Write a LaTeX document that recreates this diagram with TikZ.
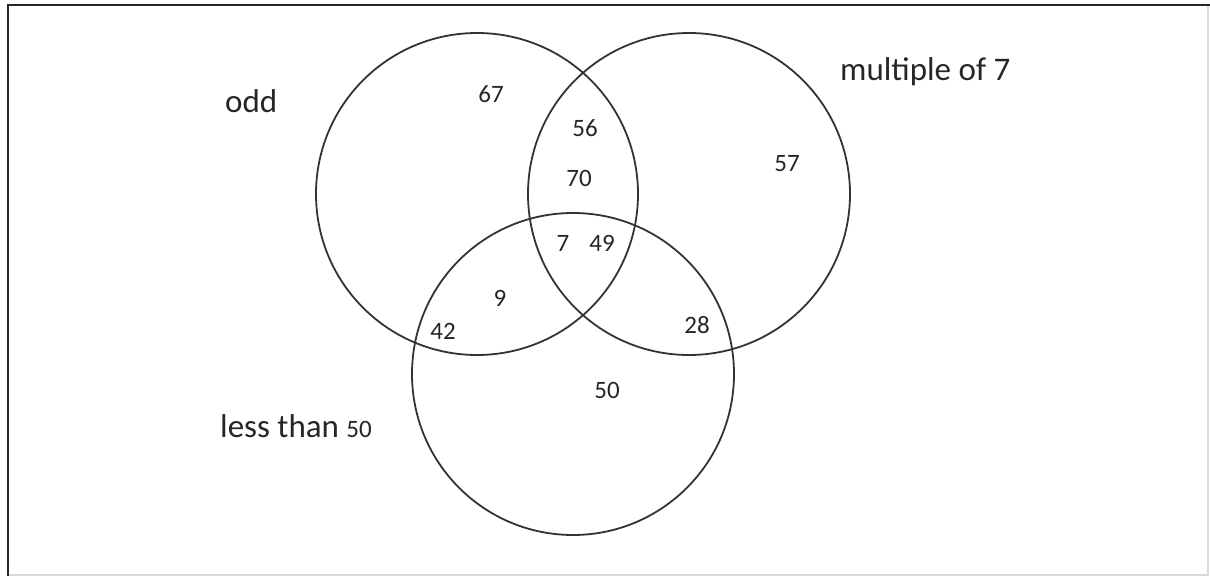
\documentclass[tikz,border=0pt]{standalone}
\usepackage{fontspec}
\setmainfont{Carlito}
\begin{document}
\begin{tikzpicture}[x=1pt,y=-1pt,
  venn/.style={draw=black!80,line width=1.8pt},
  setlabel/.style={anchor=base west,inner sep=0pt,text=black!85,font=\fontsize{33}{40}\selectfont},
  num/.style={anchor=center,inner sep=0pt,text=black!85,font=\fontsize{25}{30}\selectfont}]
\useasboundingbox (0,0) rectangle (1210,578);
% frame
\draw[black!15,line width=1.2pt] (1208,5) -- (1208,575) -- (8,575);
\draw[black!85,line width=2.4pt] (8,576) -- (8,5) -- (1210,5);
% circles
\coordinate (cO) at (477,194);
\coordinate (cM) at (689,194);
\coordinate (cL) at (573,374);
\draw[venn] (cO) circle[radius=161];
\draw[venn] (cM) circle[radius=161];
\draw[venn] (cL) circle[radius=161];
% set labels
\node[setlabel] (odd) at (225,112) {odd};
\node[setlabel] (mult) at (840,81) {multiple of 7};
\node[setlabel] (less) at (220,437) {less than {\fontsize{25}{30}\selectfont 50}};
% numbers
\node[num] (n67) at (491,94) {67};
\node[num] (n56) at (585,128) {56};
\node[num] (n70) at (579,178) {70};
\node[num] (n57) at (787,164) {57};
\node[num] (n7) at (563,243) {7};
\node[num] (n49) at (602,243) {49};
\node[num] (n9) at (500,298) {9};
\node[num] (n42) at (443,331) {42};
\node[num] (n28) at (697,325) {28};
\node[num] (n50) at (607,390) {50};
\end{tikzpicture}
\end{document}
